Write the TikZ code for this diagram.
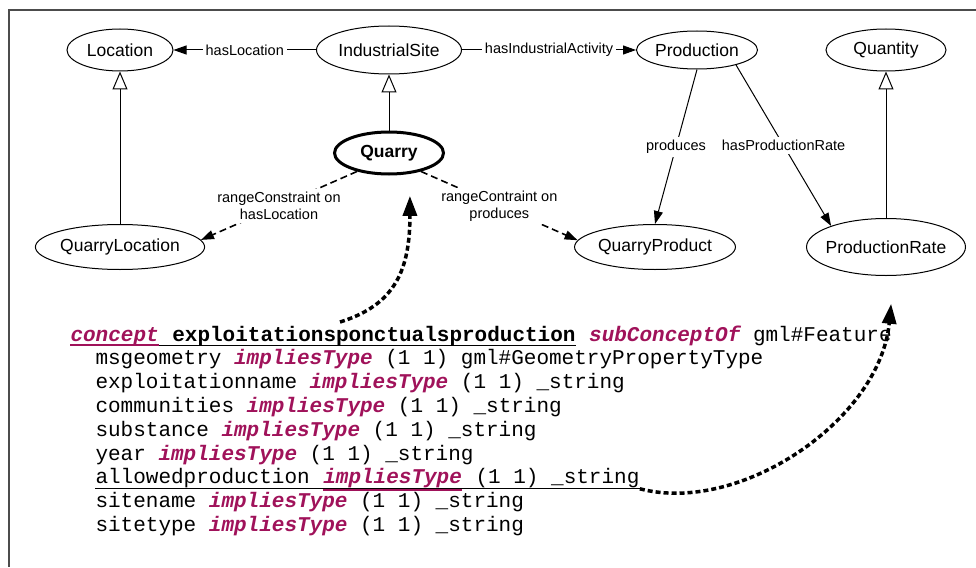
\documentclass[tikz,border=0pt]{standalone}
\usepackage{fontspec}
\setmainfont{Liberation Sans}
\setmonofont{Liberation Mono}
\usepackage{tikz}
\usetikzlibrary{arrows.meta,shapes.geometric}
\definecolor{kwcol}{RGB}{160,18,90}
\newcommand{\kw}[1]{{\color{kwcol}\bfseries\itshape #1}}
\newcommand{\codefont}{\ttfamily\fontsize{21}{23.8}\selectfont}
\newcommand{\chw}{12.6pt}

\begin{document}
\begin{tikzpicture}[x=1pt,y=-1pt
	,>={Triangle[length=13pt,width=9pt]}
	,line width=1pt]
  \tikzstyle{class}=[ellipse,draw,inner sep=0pt,font=\fontsize{17.5}{20}\selectfont]
  \tikzstyle{lbl}=[fill=white,inner sep=3pt,align=center,font=\fontsize{14.5}{17}\selectfont]
  \tikzstyle{isa}=[-{Triangle[open,length=18pt,width=15pt]}]
  \tikzstyle{rangecons}=[->,dash pattern=on 7pt off 4pt,line width=1.6pt]
  \tikzstyle{link}=[-{Triangle[length=20pt,width=14pt]},line width=3.5pt,dash pattern=on 5pt off 3pt]
  \tikzstyle{code}=[anchor=base west,inner sep=0pt,font=\codefont]

  \useasboundingbox (0,0) rectangle (976,567);
  \draw[black!70,line width=1.5pt] (976,10) -- (9,10) -- (9,567);

  % upper row
  \node[class,minimum width=106,minimum height=42] (Location) at (120,50) {Location};
  \node[class,minimum width=145,minimum height=48] (IndustrialSite) at (389,50) {IndustrialSite};
  \node[class,minimum width=121,minimum height=38] (Production) at (697,50) {Production};
  \node[class,minimum width=120,minimum height=42] (Quantity) at (886,50) {Quantity};
  % quarry
  \node[class,line width=3pt,font=\bfseries\fontsize{17.5}{20}\selectfont
    ,minimum width=109,minimum height=42] (Quarry) at (389,153) {Quarry};
  % lower row
  \node[class,minimum width=164,minimum height=45] (QuarryLocation) at (120,247) {QuarryLocation};
  \node[class,minimum width=160,minimum height=45] (QuarryProduct) at (655,247) {QuarryProduct};
  \node[class,inner xsep=-5pt,minimum width=159,minimum height=57] (ProductionRate) at (886,247) {ProductionRate};

  % subconcepts
  \path [isa      ] (QuarryLocation)   edge  (Location);
  \path [isa      ] (Quarry)           edge  (IndustrialSite);
  \path [isa      ] (ProductionRate)   edge  (Quantity);
  % properties
  \path [->       ] (IndustrialSite)   edge  node[lbl] {hasLocation}           (Location);
  \path [->       ] (IndustrialSite)   edge  node[lbl] {hasIndustrialActivity} (Production);
  \path [->       ] (Production.south) edge  node[lbl] {produces}              (QuarryProduct.north);
  \path [->       ] (Production.-21)   edge  node[lbl] {hasProductionRate}     (ProductionRate.159);
  % range constraints
  \path [rangecons] (Quarry.210)       edge  node[lbl] {rangeConstraint on\\hasLocation} (QuarryLocation.5);
  \path [rangecons] (Quarry.-30)       edge  node[lbl] {rangeContraint on\\produces}     (QuarryProduct.175);

  % concept definition
  \node[code] (concept) at (70,341) {\kw{concept}};
  \node[code] (cname) at ([xshift=\chw]concept.base east) {\textbf{exploitationsponctualsproduction}};
  \node[code] (cparent) at ([xshift=\chw]cname.base east) {\kw{subConceptOf} gml\#Feature};
  \node[code] (msgeometry) at (95,364.8) {msgeometry \kw{impliesType} (1 1) gml\#GeometryPropertyType};
  \node[code] (exploitationname) at (95,388.6) {exploitationname \kw{impliesType} (1 1) \_string};
  \node[code] (communities) at (95,412.4) {communities \kw{impliesType} (1 1) \_string};
  \node[code] (substance) at (95,436.2) {substance \kw{impliesType} (1 1) \_string};
  \node[code] (year) at (95,460) {year \kw{impliesType} (1 1) \_string};
  \node[code] (allowed) at (95,483.8) {allowedproduction};
  \node[code] (alkw) at ([xshift=\chw]allowed.base east) {\kw{impliesType}};
  \node[code] (alrest) at ([xshift=\chw]alkw.base east) {(1 1) \_string};
  \node[code] (sitename) at (95,507.6) {sitename \kw{impliesType} (1 1) \_string};
  \node[code] (sitetype) at (95,531.4) {sitetype \kw{impliesType} (1 1) \_string};

  % underlines
  \draw[line width=1.2pt] ([yshift=-4.5pt]concept.base west) -- ([yshift=-4.5pt]cname.base east);
  \draw[kwcol,line width=1.5pt] ([yshift=-4pt]concept.base west) -- ([yshift=-4pt]concept.base east);
  \draw[line width=1pt] ([yshift=-5pt]allowed.base west) -- ([yshift=-5pt]alrest.base east);
  \draw[kwcol,line width=1.5pt] ([yshift=-6pt]alkw.base west) -- ([yshift=-6pt]alkw.base east);

  % links from the code to the ontology
  \coordinate (from1) at (340,322);
  \coordinate (from2) at ([yshift=-5pt]alrest.base east);
  \draw[link,shorten >=22pt] (from1) .. controls (395,305) and (410,270) .. (Quarry.-45);
  \draw[link,shorten >=28pt] (from2) .. controls (740,515) and (880,420) .. (ProductionRate.-75);
\end{tikzpicture}
\end{document}
